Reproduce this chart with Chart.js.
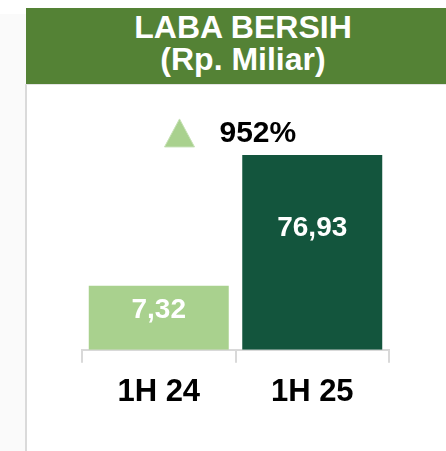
<!DOCTYPE html>
<html>
<head>
<meta charset="utf-8">
<script src="https://cdn.jsdelivr.net/npm/chart.js"></script>
<style>
  html, body { margin: 0; padding: 0; }
  body { width: 446px; height: 451px; background: #fafafa; position: relative; overflow: hidden;
         font-family: "Liberation Sans", Arial, sans-serif; }
  #top { position: absolute; left: 0; top: 0; width: 446px; height: 14px; background: #fff; }
  #header { position: absolute; left: 26px; top: 8px; width: 420px; height: 76px; background: #548235;
            color: #fff; font-weight: bold; font-size: 32px; line-height: 32px; text-align: center; }
  #header div { padding-left: 14px; }
  #panel { position: absolute; left: 25px; top: 84px; width: 421px; height: 367px; background: #fff;
           border-left: 2px solid #dadada; border-top: 1px solid #e4e4e4; box-sizing: border-box; }
  #wrap { position: absolute; left: 26px; top: 84px; width: 420px; height: 367px; }
</style>
</head>
<body>
<div id="top"></div>
<div id="panel"></div>
<div id="header"><div style="padding-top:3px">LABA BERSIH</div><div>(Rp. Miliar)</div></div>
<div id="wrap"><canvas id="labaChart"></canvas></div>
<script>
const periods = ['1H 24', '1H 25'];
const labaBersih = [7.32, 76.93];
const barColors = ['#a9d18e', '#13553d'];
const growthLabel = '952%';

const fmt = v => v.toFixed(2).replace('.', ',');

// value labels inside the bars + growth marker above
const labelPlugin = {
    id: 'labels',
    afterDatasetsDraw(chart) {
        const ctx = chart.ctx;
        const meta = chart.getDatasetMeta(0);
        ctx.save();
        ctx.font = 'bold 28px "Liberation Sans", Arial, sans-serif';
        ctx.fillStyle = '#ffffff';
        ctx.textAlign = 'center';
        ctx.textBaseline = 'middle';
        meta.data.forEach((bar, i) => {
            const y = bar.y + (bar.base - bar.y) * 0.375;
            ctx.fillText(fmt(labaBersih[i]), bar.x, y);
        });

        const xs = chart.scales.x;
        const mid = xs.getPixelForValue(0.5);
        const top = meta.data[1].y - 22;
        // triangle
        ctx.beginPath();
        ctx.moveTo(mid - 56, top - 14);
        ctx.lineTo(mid - 41, top + 14);
        ctx.lineTo(mid - 71, top + 14);
        ctx.closePath();
        ctx.fillStyle = '#a9d18e';
        ctx.fill();
        ctx.strokeStyle = '#c5e0b4';
        ctx.lineWidth = 1;
        ctx.stroke();

        ctx.fillStyle = '#000000';
        ctx.font = 'bold 30px "Liberation Sans", Arial, sans-serif';
        ctx.textAlign = 'left';
        ctx.fillText(growthLabel, mid - 16, top + 1);
        ctx.restore();
    }
};

new Chart(document.getElementById('labaChart'), {
    type: 'bar',
    data: {
        labels: periods,
        datasets: [{
            data: labaBersih,
            backgroundColor: barColors,
            base: -26.7,
            barPercentage: 0.912,
            categoryPercentage: 1
        }]
    },
    options: {
        responsive: true,
        maintainAspectRatio: false,
        animation: false,
        layout: { padding: { left: 56, right: 57, top: 30, bottom: 29 } },
        plugins: {
            legend: { display: false },
            tooltip: { enabled: false }
        },
        scales: {
            y: { display: false, min: -26.7, max: 98.7 },
            x: {
                grid: { display: true, offset: true, drawOnChartArea: false, color: '#d9d9d9', lineWidth: 2, tickLength: 13 },
                border: { display: true, color: '#d9d9d9', width: 2 },
                ticks: { color: '#000', padding: 11, font: { family: '"Liberation Sans", Arial, sans-serif', size: 31, weight: 'bold' } }
            }
        }
    },
    plugins: [labelPlugin]
});
</script>
</body>
</html>
